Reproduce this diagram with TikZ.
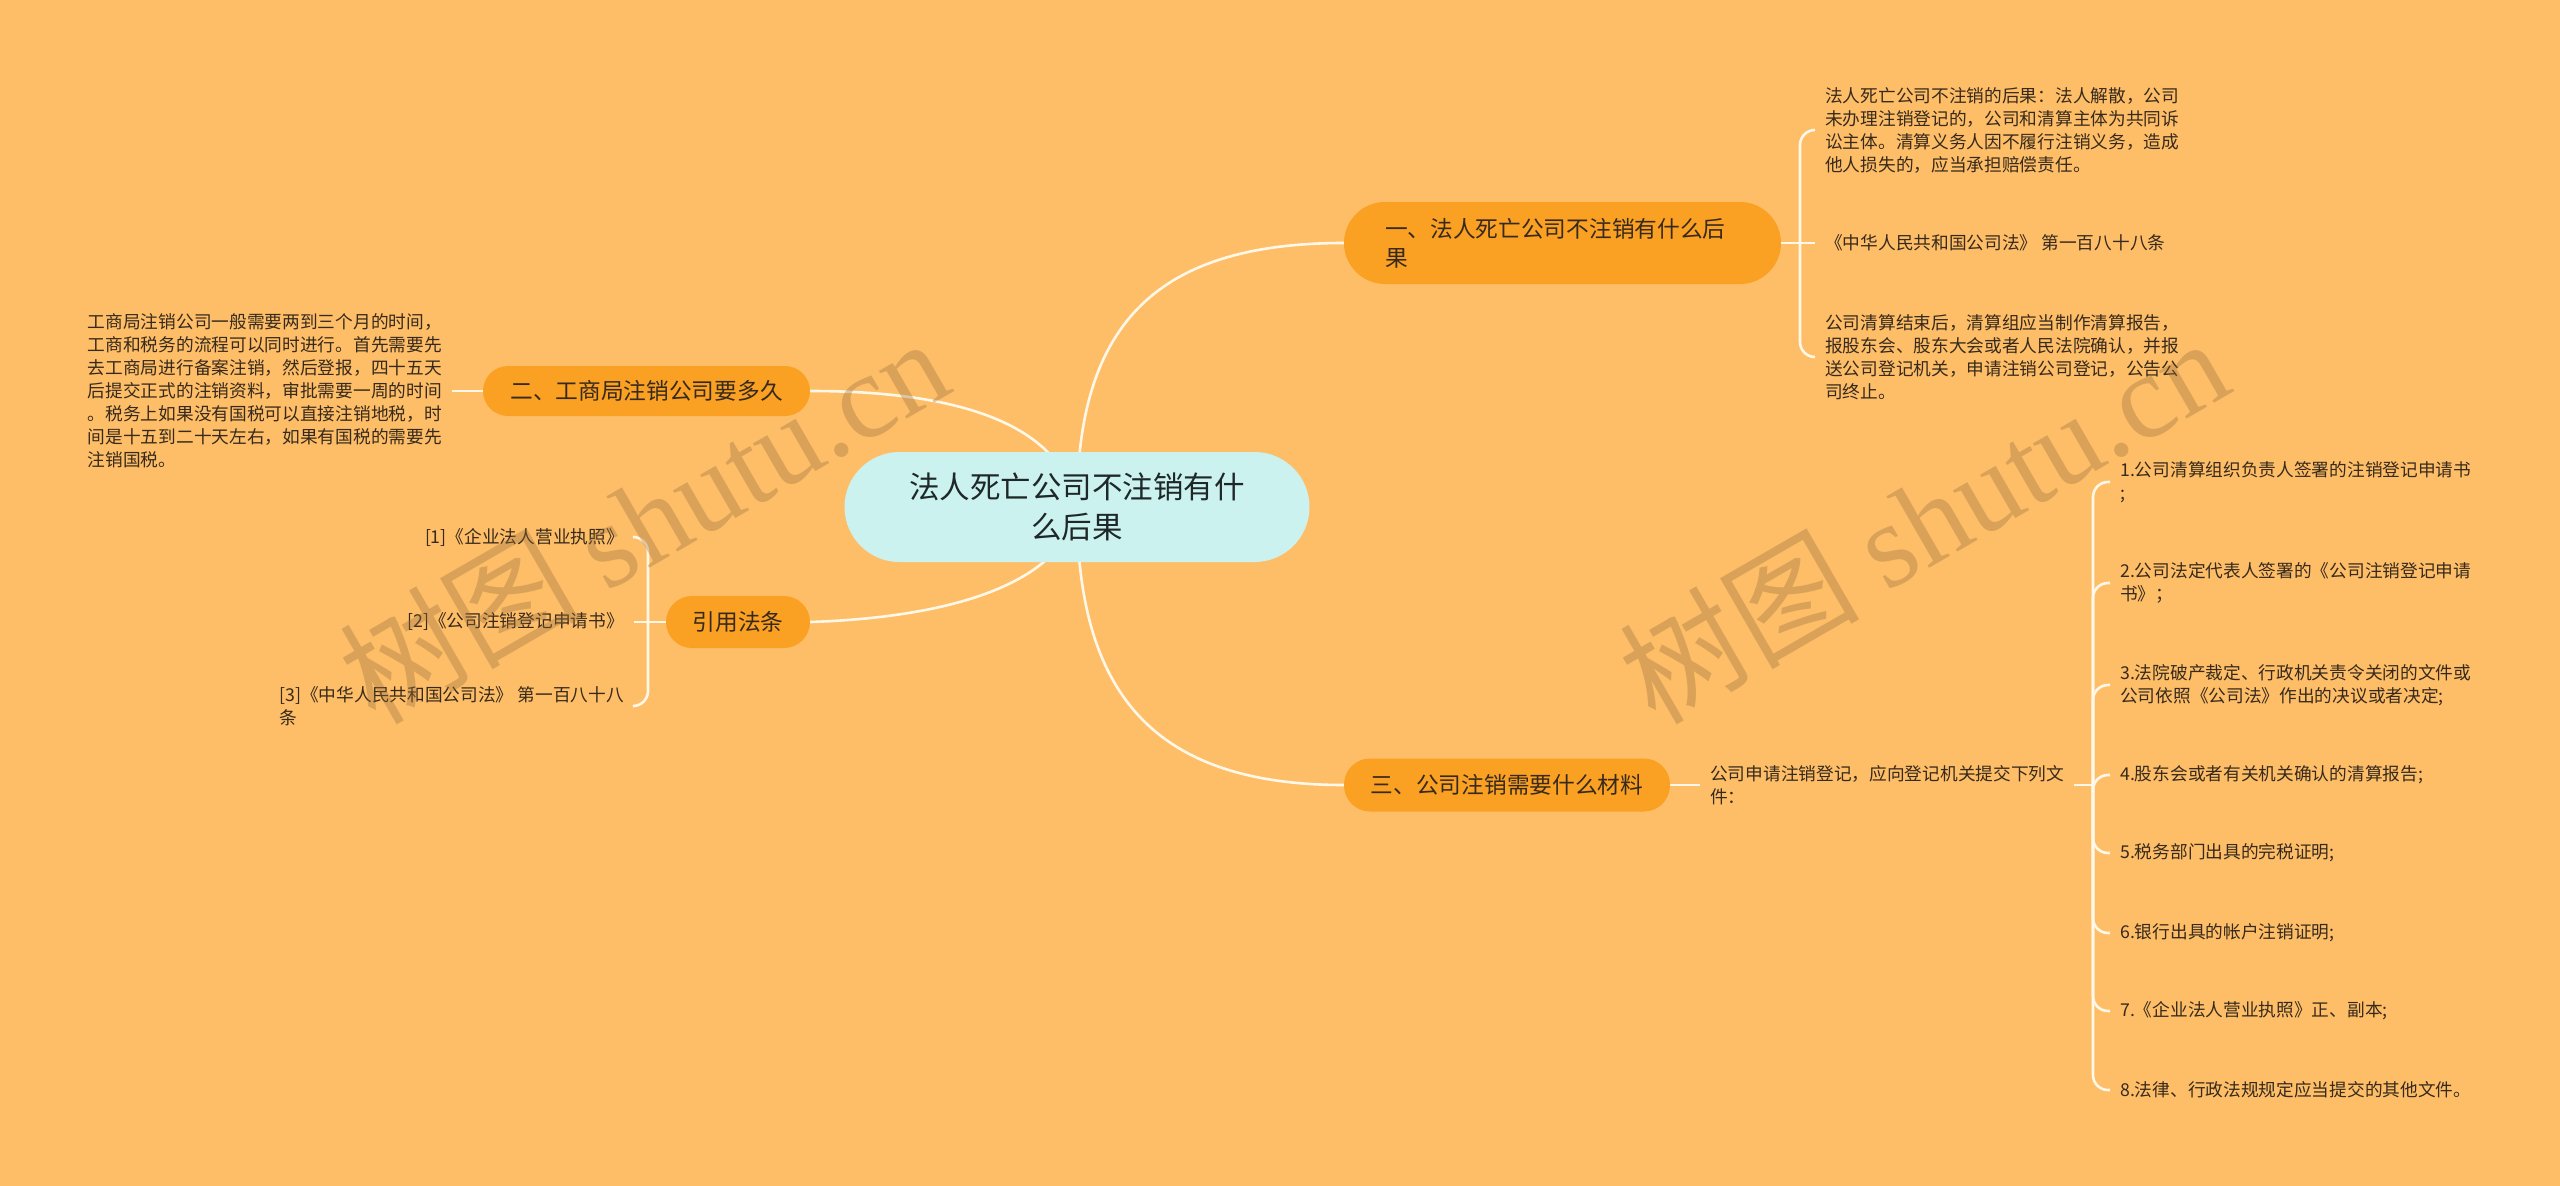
\documentclass[tikz,border=0pt]{standalone}
\usepackage{fontspec}
\setmainfont{Noto Sans CJK SC}
\newfontfamily\wmserif{Liberation Serif}
\usetikzlibrary{calc}
\definecolor{bgc}{RGB}{254,190,104}
\definecolor{brfill}{RGB}{250,160,35}
\definecolor{rootfill}{RGB}{204,242,240}
\definecolor{linec}{RGB}{255,248,232}
\definecolor{txt}{RGB}{55,42,28}
\definecolor{roottxt}{RGB}{30,40,40}
\definecolor{wmc}{RGB}{150,110,60}
\pgfdeclarelayer{back}
\pgfdeclarelayer{lines}
\pgfsetlayers{back,lines,main}
\begin{document}
\begin{tikzpicture}[x=1pt,y=-1pt,
  conn/.style={draw=linec, line width=2.6pt},
  bracket/.style={draw=linec, line width=2.6pt, rounded corners=15pt},
  rootnode/.style={fill=rootfill, text=roottxt, font=\fontsize{30.5}{40}\selectfont, inner sep=0pt, align=center},
  brnode/.style={fill=brfill, text=txt, font=\fontsize{22.7}{29}\selectfont, inner sep=0pt},
  leaf/.style={text=txt, font=\fontsize{17.7}{23}\selectfont, inner xsep=10pt, inner ysep=0pt, align=left},
  wmark/.style={text=wmc, opacity=0.35, font=\fontsize{120}{120}\selectfont, inner sep=0pt}
]
\begin{pgfonlayer}{back}
\fill[bgc] (0,0) rectangle (2560,1186);
\end{pgfonlayer}
\useasboundingbox (0,0) rectangle (2560,1186);

% root and main branches
\node[rootnode, minimum width=465pt, minimum height=110pt, rounded corners=55pt] (root) at (1077,507) {法人死亡公司不注销有什\\么后果};
\node[brnode, minimum width=437pt, minimum height=82pt, rounded corners=41pt, text width=355pt, align=left] (b1) at (1562.5,243) {一、法人死亡公司不注销有什么后\\果};
\node[brnode, minimum width=327pt, minimum height=50pt, rounded corners=25pt] (b2) at (646.5,391) {二、工商局注销公司要多久};
\node[brnode, minimum width=144pt, minimum height=52pt, rounded corners=26pt] (b3) at (738,622) {引用法条};
\node[brnode, minimum width=326pt, minimum height=53pt, rounded corners=26pt] (b4) at (1507,785) {三、公司注销需要什么材料};

% branch 1 leaves
\node[leaf, anchor=west] (l1a) at (1815,130) {法人死亡公司不注销的后果：法人解散，公司\\未办理注销登记的，公司和清算主体为共同诉\\讼主体。清算义务人因不履行注销义务，造成\\他人损失的，应当承担赔偿责任。};
\node[leaf, anchor=west] (l1b) at (1815,243) {《中华人民共和国公司法》 第一百八十八条};
\node[leaf, anchor=west] (l1c) at (1815,357) {公司清算结束后，清算组应当制作清算报告，\\报股东会、股东大会或者人民法院确认，并报\\送公司登记机关，申请注销公司登记，公告公\\司终止。};
\coordinate (j1) at (1800,243);

% branch 2 leaf
\node[leaf, anchor=east] (l2) at (452,391) {工商局注销公司一般需要两到三个月的时间，\\工商和税务的流程可以同时进行。首先需要先\\去工商局进行备案注销，然后登报，四十五天\\后提交正式的注销资料，审批需要一周的时间\\。税务上如果没有国税可以直接注销地税，时\\间是十五到二十天左右，如果有国税的需要先\\注销国税。};

% branch 3 leaves
\node[leaf, anchor=east] (l31) at (634,537) {[1]《企业法人营业执照》};
\node[leaf, anchor=east] (l32) at (634,622) {[2]《公司注销登记申请书》};
\node[leaf, anchor=east] (l33) at (634,706) {[3]《中华人民共和国公司法》 第一百八十八\\条};
\coordinate (j3) at (648,622);

% branch 4 leaves
\node[leaf, anchor=west] (l4) at (1700,785) {公司申请注销登记，应向登记机关提交下列文\\件：};
\coordinate (j4) at (2093,785);
\node[leaf, anchor=west] (c1) at (2110,482) {1.公司清算组织负责人签署的注销登记申请书\\;};
\node[leaf, anchor=west] (c2) at (2110,583) {2.公司法定代表人签署的《公司注销登记申请\\书》；};
\node[leaf, anchor=west] (c3) at (2110,685) {3.法院破产裁定、行政机关责令关闭的文件或\\公司依照《公司法》作出的决议或者决定;};
\node[leaf, anchor=west] (c4) at (2110,775) {4.股东会或者有关机关确认的清算报告;};
\node[leaf, anchor=west] (c5) at (2110,853) {5.税务部门出具的完税证明;};
\node[leaf, anchor=west] (c6) at (2110,933) {6.银行出具的帐户注销证明;};
\node[leaf, anchor=west] (c7) at (2110,1011) {7.《企业法人营业执照》正、副本;};
\node[leaf, anchor=west] (c8) at (2110,1090) {8.法律、行政法规规定应当提交的其他文件。};

\begin{pgfonlayer}{lines}
% main curves
\draw[conn] (root.center) .. controls (1077,330) and (1150,243) .. (b1.west);
\draw[conn] (root.center) .. controls (1077,690) and (1150,785) .. (b4.west);
\draw[conn] (root.center) .. controls (1060,420) and (950,391) .. (b2.east);
\draw[conn] (root.center) .. controls (1065,580) and (960,617) .. (b3.east);
% branch 1
\draw[conn] (b1.east) -- (l1b.west);
\draw[bracket] (j1) |- (l1a.west);
\draw[bracket] (j1) |- (l1c.west);
% branch 2
\draw[conn] (l2.east) -- (b2.west);
% branch 3
\draw[conn] (b3.west) -- (l32.east);
\draw[bracket] (j3) |- (l31.east);
\draw[bracket] (j3) |- (l33.east);
% branch 4
\draw[conn] (b4.east) -- (l4.west);
\draw[conn] (l4.east) -- (j4);
\foreach \c in {c1,c2,c3,c4,c5,c6,c7,c8} {
  \draw[bracket] (j4) |- (\c.west);
}
\end{pgfonlayer}

% watermarks
\node[wmark, rotate=30] (wm1) at (643,519) {树图 {\wmserif shutu.cn}};
\node[wmark, rotate=30] (wm2) at (1923,519) {树图 {\wmserif shutu.cn}};
\end{tikzpicture}
\end{document}
